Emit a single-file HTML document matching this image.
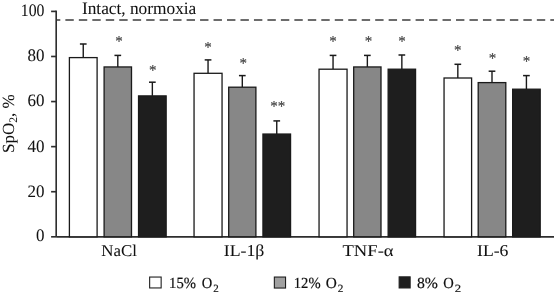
<!DOCTYPE html>
<html><head><meta charset="utf-8"><style>
html,body{margin:0;padding:0;background:#fff;}
body{width:554px;height:297px;overflow:hidden;}
svg{display:block;will-change:transform;}
text{text-rendering:geometricPrecision;}
.t{font-family:"Liberation Serif",serif;font-size:17px;fill:#111;stroke:#111;stroke-width:0.05px;}
.lg{stroke-width:0.2px;}
.s{font-family:"Liberation Serif",serif;font-size:15px;fill:#3a3a3a;stroke:#3a3a3a;stroke-width:0.15px;}

</style></head><body>
<svg width="554" height="297" viewBox="0 0 554 297">
<line x1="56.2" y1="20.0" x2="554" y2="20.0" stroke="#3c3c3c" stroke-width="1.6" stroke-dasharray="8.4 5.07" stroke-dashoffset="4.30"/>
<line x1="56.2" y1="10.575000000000001" x2="56.2" y2="236.8" stroke="#2e2e2e" stroke-width="1.65"/>
<line x1="51.1" y1="236.80" x2="56.2" y2="236.80" stroke="#2e2e2e" stroke-width="1.65"/>
<text transform="translate(36.01,241.40) scale(0.9700,1)" class="t" style="font-size:17.5px">0</text>
<line x1="51.1" y1="191.72" x2="56.2" y2="191.72" stroke="#2e2e2e" stroke-width="1.65"/>
<text transform="translate(27.52,196.72) scale(0.9700,1)" class="t" style="font-size:17.5px">20</text>
<line x1="51.1" y1="146.64" x2="56.2" y2="146.64" stroke="#2e2e2e" stroke-width="1.65"/>
<text transform="translate(27.52,151.54) scale(0.9700,1)" class="t" style="font-size:17.5px">40</text>
<line x1="51.1" y1="101.56" x2="56.2" y2="101.56" stroke="#2e2e2e" stroke-width="1.65"/>
<text transform="translate(27.52,106.26) scale(0.9700,1)" class="t" style="font-size:17.5px">60</text>
<line x1="51.1" y1="56.48" x2="56.2" y2="56.48" stroke="#2e2e2e" stroke-width="1.65"/>
<text transform="translate(27.52,61.18) scale(0.9700,1)" class="t" style="font-size:17.5px">80</text>
<line x1="51.1" y1="11.40" x2="56.2" y2="11.40" stroke="#2e2e2e" stroke-width="1.65"/>
<text transform="translate(20.82,16.00) scale(0.9000,1)" class="t" style="font-size:17.5px">100</text>
<line x1="56.2" y1="236.8" x2="554" y2="236.8" stroke="#2e2e2e" stroke-width="1.65"/>
<line x1="83.25" y1="44.00" x2="83.25" y2="57.60" stroke="#1a1a1a" stroke-width="1.4"/>
<line x1="79.90" y1="44.00" x2="86.60" y2="44.00" stroke="#1a1a1a" stroke-width="1.5"/>
<rect x="69.40" y="57.60" width="27.70" height="179.20" fill="#ffffff" stroke="#1a1a1a" stroke-width="1.3"/>
<line x1="117.80" y1="55.40" x2="117.80" y2="66.95" stroke="#1a1a1a" stroke-width="1.4"/>
<line x1="114.45" y1="55.40" x2="121.15" y2="55.40" stroke="#1a1a1a" stroke-width="1.5"/>
<rect x="104.10" y="66.95" width="27.40" height="169.85" fill="#878787" stroke="#1a1a1a" stroke-width="1.3"/>
<text x="115.14" y="45.97" class="s">*</text>
<line x1="152.35" y1="82.20" x2="152.35" y2="95.90" stroke="#1a1a1a" stroke-width="1.4"/>
<line x1="149.00" y1="82.20" x2="155.70" y2="82.20" stroke="#1a1a1a" stroke-width="1.5"/>
<rect x="138.55" y="95.90" width="27.60" height="140.90" fill="#1e1e1e" stroke="#1a1a1a" stroke-width="1.3"/>
<text x="148.99" y="74.97" class="s">*</text>
<line x1="208.05" y1="59.90" x2="208.05" y2="73.30" stroke="#1a1a1a" stroke-width="1.4"/>
<line x1="204.70" y1="59.90" x2="211.40" y2="59.90" stroke="#1a1a1a" stroke-width="1.5"/>
<rect x="194.05" y="73.30" width="28.00" height="163.50" fill="#ffffff" stroke="#1a1a1a" stroke-width="1.3"/>
<text x="204.14" y="51.82" class="s">*</text>
<line x1="242.30" y1="75.60" x2="242.30" y2="87.20" stroke="#1a1a1a" stroke-width="1.4"/>
<line x1="238.95" y1="75.60" x2="245.65" y2="75.60" stroke="#1a1a1a" stroke-width="1.5"/>
<rect x="228.70" y="87.20" width="27.20" height="149.60" fill="#878787" stroke="#1a1a1a" stroke-width="1.3"/>
<text x="239.54" y="67.87" class="s">*</text>
<line x1="276.75" y1="120.90" x2="276.75" y2="134.05" stroke="#1a1a1a" stroke-width="1.4"/>
<line x1="273.40" y1="120.90" x2="280.10" y2="120.90" stroke="#1a1a1a" stroke-width="1.5"/>
<rect x="262.95" y="134.05" width="27.60" height="102.75" fill="#1e1e1e" stroke="#1a1a1a" stroke-width="1.3"/>
<text x="270.24" y="111.12" class="s">*</text>
<text x="277.74" y="111.12" class="s">*</text>
<line x1="333.05" y1="55.40" x2="333.05" y2="69.20" stroke="#1a1a1a" stroke-width="1.4"/>
<line x1="329.70" y1="55.40" x2="336.40" y2="55.40" stroke="#1a1a1a" stroke-width="1.5"/>
<rect x="319.05" y="69.20" width="28.00" height="167.60" fill="#ffffff" stroke="#1a1a1a" stroke-width="1.3"/>
<text x="329.14" y="45.97" class="s">*</text>
<line x1="367.35" y1="55.40" x2="367.35" y2="66.95" stroke="#1a1a1a" stroke-width="1.4"/>
<line x1="364.00" y1="55.40" x2="370.70" y2="55.40" stroke="#1a1a1a" stroke-width="1.5"/>
<rect x="353.70" y="66.95" width="27.30" height="169.85" fill="#878787" stroke="#1a1a1a" stroke-width="1.3"/>
<text x="364.64" y="45.97" class="s">*</text>
<line x1="401.85" y1="55.00" x2="401.85" y2="69.20" stroke="#1a1a1a" stroke-width="1.4"/>
<line x1="398.50" y1="55.00" x2="405.20" y2="55.00" stroke="#1a1a1a" stroke-width="1.5"/>
<rect x="388.15" y="69.20" width="27.40" height="167.60" fill="#1e1e1e" stroke="#1a1a1a" stroke-width="1.3"/>
<text x="398.24" y="45.87" class="s">*</text>
<line x1="457.83" y1="64.30" x2="457.83" y2="78.00" stroke="#1a1a1a" stroke-width="1.4"/>
<line x1="454.48" y1="64.30" x2="461.18" y2="64.30" stroke="#1a1a1a" stroke-width="1.5"/>
<rect x="444.05" y="78.00" width="27.55" height="158.80" fill="#ffffff" stroke="#1a1a1a" stroke-width="1.3"/>
<text x="454.04" y="54.97" class="s">*</text>
<line x1="492.00" y1="71.20" x2="492.00" y2="82.60" stroke="#1a1a1a" stroke-width="1.4"/>
<line x1="488.65" y1="71.20" x2="495.35" y2="71.20" stroke="#1a1a1a" stroke-width="1.5"/>
<rect x="478.20" y="82.60" width="27.60" height="154.20" fill="#878787" stroke="#1a1a1a" stroke-width="1.3"/>
<text x="488.84" y="63.07" class="s">*</text>
<line x1="526.42" y1="75.60" x2="526.42" y2="89.20" stroke="#1a1a1a" stroke-width="1.4"/>
<line x1="523.07" y1="75.60" x2="529.77" y2="75.60" stroke="#1a1a1a" stroke-width="1.5"/>
<rect x="512.65" y="89.20" width="27.55" height="147.60" fill="#1e1e1e" stroke="#1a1a1a" stroke-width="1.3"/>
<text x="522.84" y="66.07" class="s">*</text>
<text transform="translate(101.26,256.00) scale(1.0228,1)" class="t" style="font-size:16.5px" fill="#111">NaCl</text>
<text transform="translate(223.71,256.00) scale(1.0792,1)" class="t" style="font-size:16.5px" fill="#111">IL-1&#946;</text>
<text transform="translate(342.51,256.00) scale(1.1267,1)" class="t" style="font-size:16.5px" fill="#111">TNF-&#945;</text>
<text transform="translate(477.01,256.00) scale(1.0698,1)" class="t" style="font-size:16.5px" fill="#111">IL-6</text>
<text transform="translate(81.92,14.00) scale(0.9888,1)" class="t" style="font-size:17.5px" fill="#111">Intact, normoxia</text>
<g transform="translate(14.1,153.0) rotate(-90)"><text class="t" style="font-size:17px">SpO<tspan style="font-size:11.5px" dy="3.2">2</tspan><tspan dy="-3.2">, %</tspan></text></g>
<rect x="149.65" y="277.05" width="11.50" height="10.90" fill="#ffffff" stroke="#1e1e1e" stroke-width="1.1"/>
<text transform="translate(169.06,288.00) scale(0.9465,1)" class="t lg" style="font-size:15.5px" fill="#111">15%</text>
<text transform="translate(201.85,288.00) scale(0.9373,1)" class="t lg" style="font-size:15.5px" fill="#111">O</text>
<text transform="translate(213.17,291.70) scale(0.9978,1)" class="t lg" style="font-size:11px" fill="#111">2</text>
<rect x="274.35" y="277.05" width="11.20" height="11.00" fill="#a0a0a0" stroke="#1e1e1e" stroke-width="1.1"/>
<text transform="translate(293.77,288.00) scale(0.9427,1)" class="t lg" style="font-size:15.5px" fill="#111">12%</text>
<text transform="translate(325.82,288.00) scale(0.9877,1)" class="t lg" style="font-size:15.5px" fill="#111">O</text>
<text transform="translate(337.86,291.70) scale(1.0205,1)" class="t lg" style="font-size:11px" fill="#111">2</text>
<rect x="399.15" y="276.85" width="11.00" height="11.10" fill="#1e1e1e" stroke="#1e1e1e" stroke-width="1.1"/>
<text transform="translate(416.95,288.00) scale(1.0132,1)" class="t lg" style="font-size:15.5px" fill="#111">8%</text>
<text transform="translate(443.15,288.00) scale(0.9373,1)" class="t lg" style="font-size:15.5px" fill="#111">O</text>
<text transform="translate(454.69,291.70) scale(1.1565,1)" class="t lg" style="font-size:11px" fill="#111">2</text>
</svg>
</body></html>
